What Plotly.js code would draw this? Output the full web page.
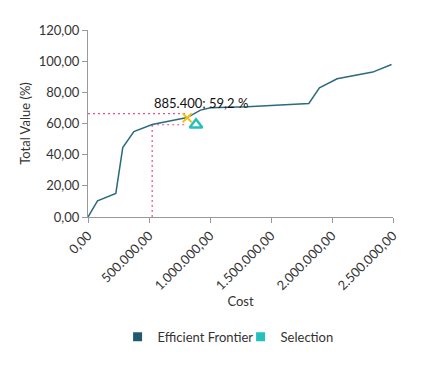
<!DOCTYPE html>
<html><head><meta charset="utf-8">
<script src="https://cdn.plot.ly/plotly-3.0.1.min.js"></script>
<style>html,body{margin:0;padding:0;background:#fff}#c{width:424px;height:368px}</style>
</head><body><div id="c"></div>
<script>
const frontierCost = [0, 78000, 228000, 285000, 376000, 526000, 813000, 922000, 1004000, 1305000, 1810000, 1897000, 2042000, 2334000, 2488000];
const frontierValue = [0, 10.4, 15.1, 44.5, 54.8, 59.4, 63.8, 68.6, 70.1, 70.8, 72.9, 82.9, 88.7, 93.0, 97.9];
const selectionCost = [885400];
const selectionValue = [59.2];
const markCost = [813000];
const markValue = [63.7];
const refUpperCost = [0, 795000];
const refUpperValue = [66.3, 66.3];
const refLowerCost = [526000, 795000];
const refLowerValue = [59.2, 59.2];
const refVertCost = [526000, 526000];
const refVertValue = [0, 59.2];
const xTicks = [0, 500000, 1000000, 1500000, 2000000, 2500000];
const yTicks = [0, 20, 40, 60, 80, 100, 120];
const labelText = "885.400; 59,2 %";

const frontierColor = '#2b6a80';
const selColor = '#26bfbf';
const refColor = '#e3508a';
const font = 'Lato, "Open Sans", sans-serif';

const traces = [
  {x: refUpperCost, y: refUpperValue, mode: 'lines', line: {color: refColor, dash: '2px,3px', width: 1.2}, showlegend: false, hoverinfo: 'skip'},
  {x: refLowerCost, y: refLowerValue, mode: 'lines', line: {color: refColor, dash: '2px,3px', width: 1.2}, showlegend: false, hoverinfo: 'skip'},
  {x: refVertCost, y: refVertValue, mode: 'lines', line: {color: refColor, dash: '2px,3px', width: 1.2}, showlegend: false, hoverinfo: 'skip'},
  {x: frontierCost, y: frontierValue, mode: 'lines', line: {color: frontierColor, width: 1.5}, showlegend: false},
  {x: markCost, y: markValue, mode: 'markers', marker: {symbol: 'x-thin-open', size: 9, color: '#f2c21b', line: {color: '#f2c21b', width: 2}}, showlegend: false},
  {x: selectionCost, y: selectionValue, mode: 'markers', marker: {symbol: 'triangle-up-open', size: 11, color: selColor, line: {color: selColor, width: 2.5}}, showlegend: false},
  {x: [null], y: [null], mode: 'markers', name: 'Efficient Frontier', marker: {symbol: 'square', size: 9, color: '#1f5a6e'}},
  {x: [null], y: [null], mode: 'markers', name: 'Selection', marker: {symbol: 'square', size: 9, color: selColor}}
];

const layout = {
  width: 424, height: 368,
  margin: {l: 88, r: 31, t: 30, b: 151},
  paper_bgcolor: '#fff', plot_bgcolor: '#fff',
  separators: ',.',
  font: {family: font, size: 13, color: '#333'},
  xaxis: {
    range: [0, 2500000], tickvals: xTicks, tickformat: ',.2f', tickangle: -45,
    showgrid: false, zeroline: false, showline: true, linecolor: '#999', linewidth: 1,
    ticks: 'outside', ticklen: 5, tickcolor: '#999',
    tickfont: {family: font, size: 13, color: '#333'},
    title: {text: 'Cost', font: {family: font, size: 13, color: '#333'}, standoff: 2}
  },
  yaxis: {
    range: [0, 120], tickvals: yTicks, tickformat: ',.2f',
    showgrid: false, zeroline: false, showline: true, linecolor: '#999', linewidth: 1,
    ticks: 'outside', ticklen: 5, tickcolor: '#999',
    tickfont: {family: font, size: 13, color: '#333'},
    title: {text: 'Total Value (%)', font: {family: font, size: 13, color: '#333'}, standoff: 5}
  },
  legend: {orientation: 'h', x: 0.097, xanchor: 'left', y: -0.64, yanchor: 'middle', font: {family: font, size: 13, color: '#333'}, itemwidth: 30, entrywidth: 78, entrywidthmode: 'pixels'},
  annotations: [{
    x: selectionCost[0], y: selectionValue[0], xref: 'x', yref: 'y', text: labelText, showarrow: false,
    xanchor: 'center', yanchor: 'bottom', xshift: 5, yshift: 12, font: {family: font, size: 13, color: '#111'}
  }]
};
Plotly.newPlot('c', traces, layout, {displayModeBar: false, staticPlot: true});
</script>
</body></html>
